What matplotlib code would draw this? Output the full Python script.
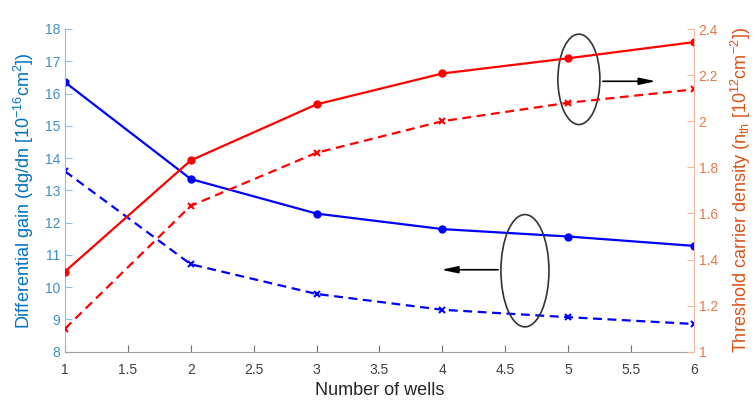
import numpy as np
import matplotlib
matplotlib.use('Agg')
import matplotlib.pyplot as plt
from matplotlib.patches import Ellipse
from matplotlib.ticker import FormatStrFormatter

plt.rcParams['font.family'] = ['Liberation Sans', 'DejaVu Sans']
plt.rcParams['mathtext.default'] = 'regular'

# data
wells = [1, 2, 3, 4, 5, 6]
gain_solid = [16.35, 13.35, 12.28, 11.80, 11.57, 11.28]
gain_dashed = [13.59, 10.71, 9.79, 9.30, 9.07, 8.86]
nth_solid = [1.348, 1.83, 2.073, 2.207, 2.273, 2.343]
nth_dashed = [1.10, 1.633, 1.863, 2.00, 2.08, 2.138]

x_ticks = np.arange(1, 6.01, 0.5)
left_ticks = np.arange(8, 18.01, 1)
right_ticks = np.arange(1, 2.41, 0.2)

left_col = '#0072BD'
right_col = '#D95319'

fig = plt.figure(figsize=(7.55, 4.0), dpi=100)
ax = fig.add_axes([0.0861, 0.1207, 0.919 - 0.0861, 0.9275 - 0.1207])
ax2 = ax.twinx()

ax.plot(wells, gain_solid, '-o', color='blue', lw=1.6, ms=5)
ax.plot(wells, gain_dashed, '--x', color='blue', lw=1.6, ms=5, mew=1.5, dashes=(4, 2.5))
ax2.plot(wells, nth_solid, '-o', color='red', lw=1.6, ms=5)
ax2.plot(wells, nth_dashed, '--x', color='red', lw=1.6, ms=5, mew=1.5, dashes=(4, 2.5))

ax.set_xlim(1, 6)
ax.set_ylim(8, 18)
ax2.set_ylim(1, 2.4)
ax.set_xticks(x_ticks)
ax.set_yticks(left_ticks)
ax2.set_yticks(right_ticks)
ax.xaxis.set_major_formatter(FormatStrFormatter('%g'))
ax2.yaxis.set_major_formatter(FormatStrFormatter('%g'))

for a in (ax, ax2):
    a.spines['top'].set_visible(False)
    a.tick_params(direction='in', length=5, width=0.8, labelsize=10)
ax.spines['left'].set_color('#8fbfe3')
ax.spines['bottom'].set_color('#a0a0a0')
ax.spines['right'].set_visible(False)
ax2.spines['left'].set_visible(False)
ax2.spines['bottom'].set_visible(False)
ax2.spines['right'].set_color('#f0b89c')
ax.tick_params(axis='y', colors='#8fbfe3', labelcolor='#3d8fcc')
ax.tick_params(axis='x', colors='#707070', labelcolor='#404040', pad=8)
ax2.tick_params(axis='y', colors='#f0b89c', labelcolor='#e07a4a')

ax.set_xlabel('Number of wells', fontsize=13, color='#262626', labelpad=4)
ax.set_ylabel('Differential gain (dg/dn [10$^{-16}$cm$^{2}$])', fontsize=13,
              color=left_col, labelpad=6)
ax2.set_ylabel('Threshold carrier density (n$_{th}$ [10$^{12}$cm$^{-2}$])', fontsize=13,
               color=right_col, labelpad=8)

# annotation ellipses and arrows
arrow = dict(arrowstyle='-|>,head_length=0.7,head_width=0.15',
             color='black', lw=1.2, mutation_scale=14)
ax.add_patch(Ellipse((5.086, 16.44), 0.334, 2.80, fill=False, ec='#333333', lw=1.2,
                     zorder=5, clip_on=False))
ax.annotate('', xy=(5.72, 16.38), xytext=(5.255, 16.38), arrowprops=arrow)
ax.add_patch(Ellipse((4.657, 10.51), 0.382, 3.48, fill=False, ec='#333333', lw=1.2,
                     zorder=5, clip_on=False))
ax.annotate('', xy=(3.97, 10.54), xytext=(4.466, 10.54), arrowprops=arrow)

fig.savefig('out.png', dpi=100)
